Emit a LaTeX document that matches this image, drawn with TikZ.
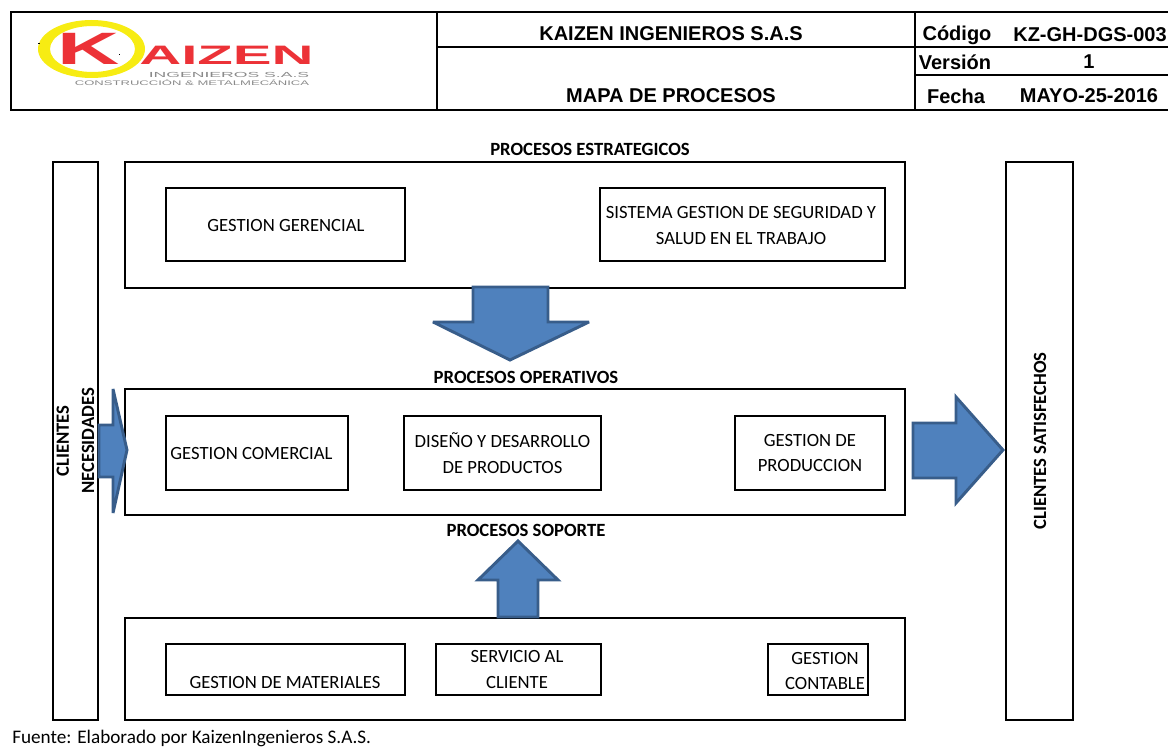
\documentclass[tikz,border=0pt]{standalone}
\usepackage{graphicx}
\usepackage{fontspec}
\setmainfont{Carlito}
\newfontfamily\hdrfont{Liberation Sans}
\usepackage{tikz}
\definecolor{arrowfill}{HTML}{4F81BD}
\definecolor{arrowedge}{HTML}{385D8A}
\definecolor{logored}{HTML}{EC3237}
\definecolor{logoyellow}{HTML}{F7EC13}
\definecolor{logogray}{HTML}{8A8A8A}
\tikzset{
  procbox/.style = {rectangle, draw=black, line width=2.2pt, inner sep=0pt,
    align=center, font=\fontsize{14}{19}\selectfont},% box round a process
  procname/.style = {align=center, inner sep=0pt,
    font=\fontsize{14}{19}\selectfont},% text alone
  grouptitle/.style = {procname, font=\fontsize{14}{19}\selectfont\bfseries},% bold title
  sidetext/.style = {grouptitle, rotate=90},% side columns
  hdrtext/.style = {inner sep=0pt, font=\hdrfont\fontsize{15}{15}\selectfont\bfseries},% header cells
  hdrline/.style = {line width=2.2pt, line cap=rect},
  blockarrow/.style = {draw=arrowedge, fill=arrowfill, line width=2.2pt, line join=miter, miter limit=3}% big arrows
}
\begin{document}
\begin{tikzpicture}[x=0.75pt,y=-0.75pt]
\useasboundingbox (0,0) rectangle (1168,748);

% header
\draw [hdrline] (1168,12) -- (11,12) -- (11,110) -- (1168,110);
\draw [hdrline] (437,12) -- (437,110);
\draw [hdrline] (915,12) -- (915,110);
\draw [hdrline] (437,47) -- (1168,47);
\draw [hdrline] (915,75) -- (1168,75);
\node (kaizen) [hdrtext] at (671,34) {KAIZEN INGENIEROS S.A.S};
\node (mapa) [hdrtext] at (671,96) {MAPA DE PROCESOS};
\node (codigo) [hdrtext] at (957,35) {Código};
\node (codval) [hdrtext] at (1090,35) {KZ-GH-DGS-003};
\node (version) [hdrtext] at (955,62) {Versión};
\node (verval) [hdrtext] at (1089,62) {1};
\node (fecha) [hdrtext] at (956,96) {Fecha};
\node (fechaval) [hdrtext] at (1089,96) {MAYO-25-2016};

% logo
\fill [logoyellow, even odd rule] (91.5,49) ellipse (53.5 and 29) (92.5,49) ellipse (42.5 and 23);
\node (logok) [inner sep=0pt, text=logored] at (89,48.5)
  {\scalebox{1.9}[1]{\hdrfont\fontsize{34}{34}\selectfont\bfseries K}};
\node (logoaizen) [inner sep=0pt, text=logored] at (226.5,55.5)
  {\scalebox{2.18}[1]{\hdrfont\fontsize{20}{20}\selectfont\bfseries AIZEN}};
\node (logoing) [inner sep=0pt, text=logogray] at (229,75)
  {\scalebox{2.4}[1]{\hdrfont\fontsize{5.5}{6}\selectfont INGENIEROS S.A.S}};
\node (logocons) [inner sep=0pt, text=logogray] at (192,83)
  {\scalebox{1.96}[1]{\hdrfont\fontsize{5}{6}\selectfont CONSTRUCCIÓN \& METALMECÁNICA}};
\fill (38,43.5) rectangle (40,44.5);
\fill (119,54.5) rectangle (120,55.5);

% side columns
\node (clientes) [procbox, minimum width=33.75pt, minimum height=418.5pt] at (75.5,441) {};
\node (satisf) [procbox, minimum width=50.25pt, minimum height=418.5pt] at (1039.5,441) {};
\node (cliname) [sidetext] at (75.5,441) {CLIENTES\\[0pt]NECESIDADES};
\node (satname) [sidetext] at (1040,441) {CLIENTES SATISFECHOS};

% groups
\node (estrat) [procbox, minimum width=585pt, minimum height=94.5pt] at (515,225) {};
\node (operat) [procbox, minimum width=585pt, minimum height=94.5pt] at (515,452) {};
\node (soport) [procbox, minimum width=585pt, minimum height=76.5pt] at (515,669) {};
\node (estname) [grouptitle] at (590,149) {PROCESOS ESTRATEGICOS};
\node (opname) [grouptitle] at (526,377) {PROCESOS OPERATIVOS};
\node (sopname) [grouptitle] at (526,530) {PROCESOS SOPORTE};

% big arrows
\draw [blockarrow] (473,287) -- (548,287) -- (548,322) -- (589,322) -- (510,360) -- (433,322) -- (473,322) -- cycle;
\draw [blockarrow] (99,425) -- (113,425) -- (113,389) -- (127,450) -- (113,513) -- (113,477) -- (99,477) -- cycle;
\draw [blockarrow] (913,423) -- (956,423) -- (956,397) -- (1003,450) -- (956,503) -- (956,478) -- (913,478) -- cycle;
\draw [blockarrow] (498,617) -- (498,580) -- (478,580) -- (518,541) -- (558,580) -- (538,580) -- (538,617) -- cycle;

% process boxes
\node (gerencial) [procbox, minimum width=179.25pt, minimum height=54.75pt] at (285.5,224.5) {};
\node (seguridad) [procbox, minimum width=213.75pt, minimum height=54.75pt] at (742.5,224.5) {};
\node (comercial) [procbox, minimum width=136.5pt, minimum height=55.5pt] at (257,453) {};
\node (diseno) [procbox, minimum width=147.75pt, minimum height=55.5pt] at (502.5,453) {DISEÑO Y DESARROLLO\\DE PRODUCTOS};
\node (produccion) [procbox, minimum width=112.5pt, minimum height=55.5pt] at (810,453) {GESTION DE\\PRODUCCION};
\node (materiales) [procbox, minimum width=179.25pt, minimum height=38.25pt] at (285.5,669.5) {};
\node (servicio) [procbox, minimum width=123.75pt, minimum height=38.25pt] at (518.5,669.5) {};
\node (contable) [procbox, minimum width=75pt, minimum height=38.25pt] at (818,669.5) {};
\node (gername) [procname] at (286,226) {GESTION GERENCIAL};
\node (segname) [procname] at (741,225.5) {SISTEMA GESTION DE SEGURIDAD Y\\SALUD EN EL TRABAJO};
\node (comname) [procname] at (251.5,454) {GESTION COMERCIAL};
\node (matname) [procname] at (285,682.5) {GESTION DE MATERIALES};
\node (sername) [procname] at (517,669.5) {SERVICIO AL\\CLIENTE};
\node (conname) [procname] at (825,671) {GESTION\\CONTABLE};

\node (fuente) [procname, anchor=west, font=\fontsize{14.4}{19}\selectfont] at (12,738) {Fuente: Elaborado por KaizenIngenieros S.A.S.};
\end{tikzpicture}
\end{document}
